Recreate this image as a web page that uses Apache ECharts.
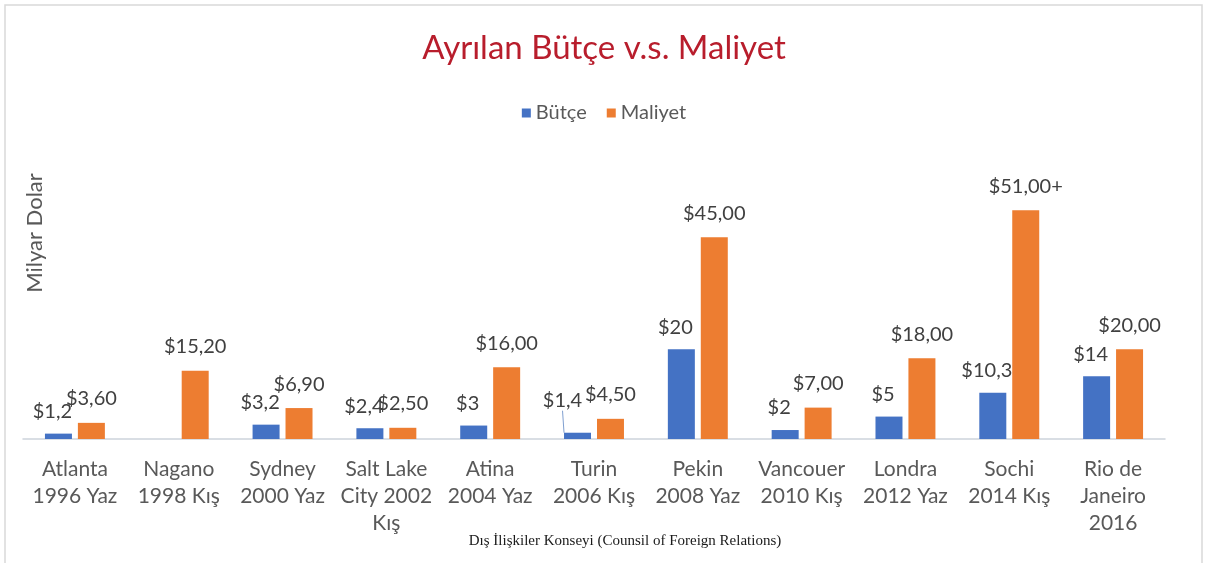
<!DOCTYPE html>
<html>
<head>
<meta charset="utf-8">
<script src="https://cdn.jsdelivr.net/npm/echarts@6/dist/echarts.min.js"></script>
<style>
  html, body { margin: 0; padding: 0; background: #fff; }
  #chart { width: 1208px; height: 563px; }
</style>
</head>
<body>
<div id="chart"></div>
<script>
const categories = [
  'Atlanta\n1996 Yaz', 'Nagano\n1998 Kış', 'Sydney\n2000 Yaz', 'Salt Lake\nCity 2002\nKış',
  'Atina\n2004 Yaz', 'Turin\n2006 Kış', 'Pekin\n2008 Yaz', 'Vancouer\n2010 Kış',
  'Londra\n2012 Yaz', 'Sochi\n2014 Kış', 'Rio de\nJaneiro\n2016'
]
const butce = [1.2, null, 3.2, 2.4, 3, 1.4, 20, 2, 5, 10.3, 14]
const maliyet = [3.6, 15.2, 6.9, 2.5, 16, 4.5, 45, 7, 18, 51, 20]
const maliyetSuffix = ['', '', '', '', '', '', '', '', '', '+', '']

const textColor = '#595959'
const labelColor = '#404040'
const font = 'Lato'

const chart = echarts.init(document.getElementById('chart'))

const option = {
  backgroundColor: '#fff',
  title: {
    text: 'Ayrılan Bütçe v.s. Maliyet',
    left: 'center',
    top: 27,
    textStyle: { fontFamily: font, fontSize: 33, fontWeight: 'normal', color: '#b81d2c' }
  },
  legend: {
    top: 98,
    left: 'center',
    icon: 'rect',
    itemWidth: 9,
    itemHeight: 9,
    itemGap: 20,
    textStyle: { fontFamily: font, fontSize: 20, color: textColor }
  },
  graphic: [
    {
      type: 'rect',
      shape: { x: 5, y: 5, width: 1197, height: 620 },
      style: { fill: 'none', stroke: '#d9d9d9', lineWidth: 1.5 },
      silent: true
    },
    {
      type: 'text',
      x: 35,
      y: 233,
      rotation: Math.PI / 2,
      style: {
        text: 'Milyar Dolar',
        fontFamily: font,
        fontSize: 22,
        fill: textColor,
        align: 'center',
        verticalAlign: 'middle'
      }
    },
    {
      type: 'text',
      x: 625,
      y: 541,
      style: {
        text: 'Dış İlişkiler Konseyi (Counsil of Foreign Relations)',
        fontFamily: 'Liberation Serif',
        fontSize: 15,
        fill: '#1a1a1a',
        align: 'center',
        verticalAlign: 'middle'
      }
    }
  ],
  grid: { left: 23, right: 43, top: 170, bottom: 124 },
  xAxis: {
    type: 'category',
    data: categories,
    axisLine: { lineStyle: { color: '#cdd3dc', width: 1.5 } },
    axisTick: { show: false },
    axisLabel: {
      interval: 0,
      margin: 17,
      fontFamily: font,
      fontSize: 21,
      lineHeight: 27,
      color: textColor
    }
  },
  yAxis: {
    type: 'value',
    min: 0,
    max: 60,
    axisLine: { show: false },
    axisTick: { show: false },
    axisLabel: { show: false },
    splitLine: { show: false }
  },
  series: [
    {
      name: 'Bütçe',
      type: 'bar',
      barWidth: 27,
      barGap: '22%',
      itemStyle: { color: '#4472c4' },
      data: butce.map((v, i) => i === 5 ? { value: v, labelLine: { show: true, lineStyle: { color: '#7f9fd0' } } } : v),
      labelLayout: (p) => p.dataIndex === 5 ? { dx: -15, dy: -10 } : { dx: -6 },
      label: {
        show: true,
        position: 'top',
        distance: 12,
        fontFamily: font,
        fontSize: 20,
        color: labelColor,
        formatter: (p) => '$' + String(p.value).replace('.', ',')
      }
    },
    {
      name: 'Maliyet',
      type: 'bar',
      barWidth: 27,
      itemStyle: { color: '#ed7d31' },
      data: maliyet,
      label: {
        show: true,
        position: 'top',
        distance: 14,
        fontFamily: font,
        fontSize: 20,
        color: labelColor,
        formatter: (p) => '$' + p.value.toFixed(2).replace('.', ',') + maliyetSuffix[p.dataIndex]
      }
    }
  ]
}

chart.setOption(option)
window.addEventListener('resize', () => chart.resize())
</script>
</body>
</html>
